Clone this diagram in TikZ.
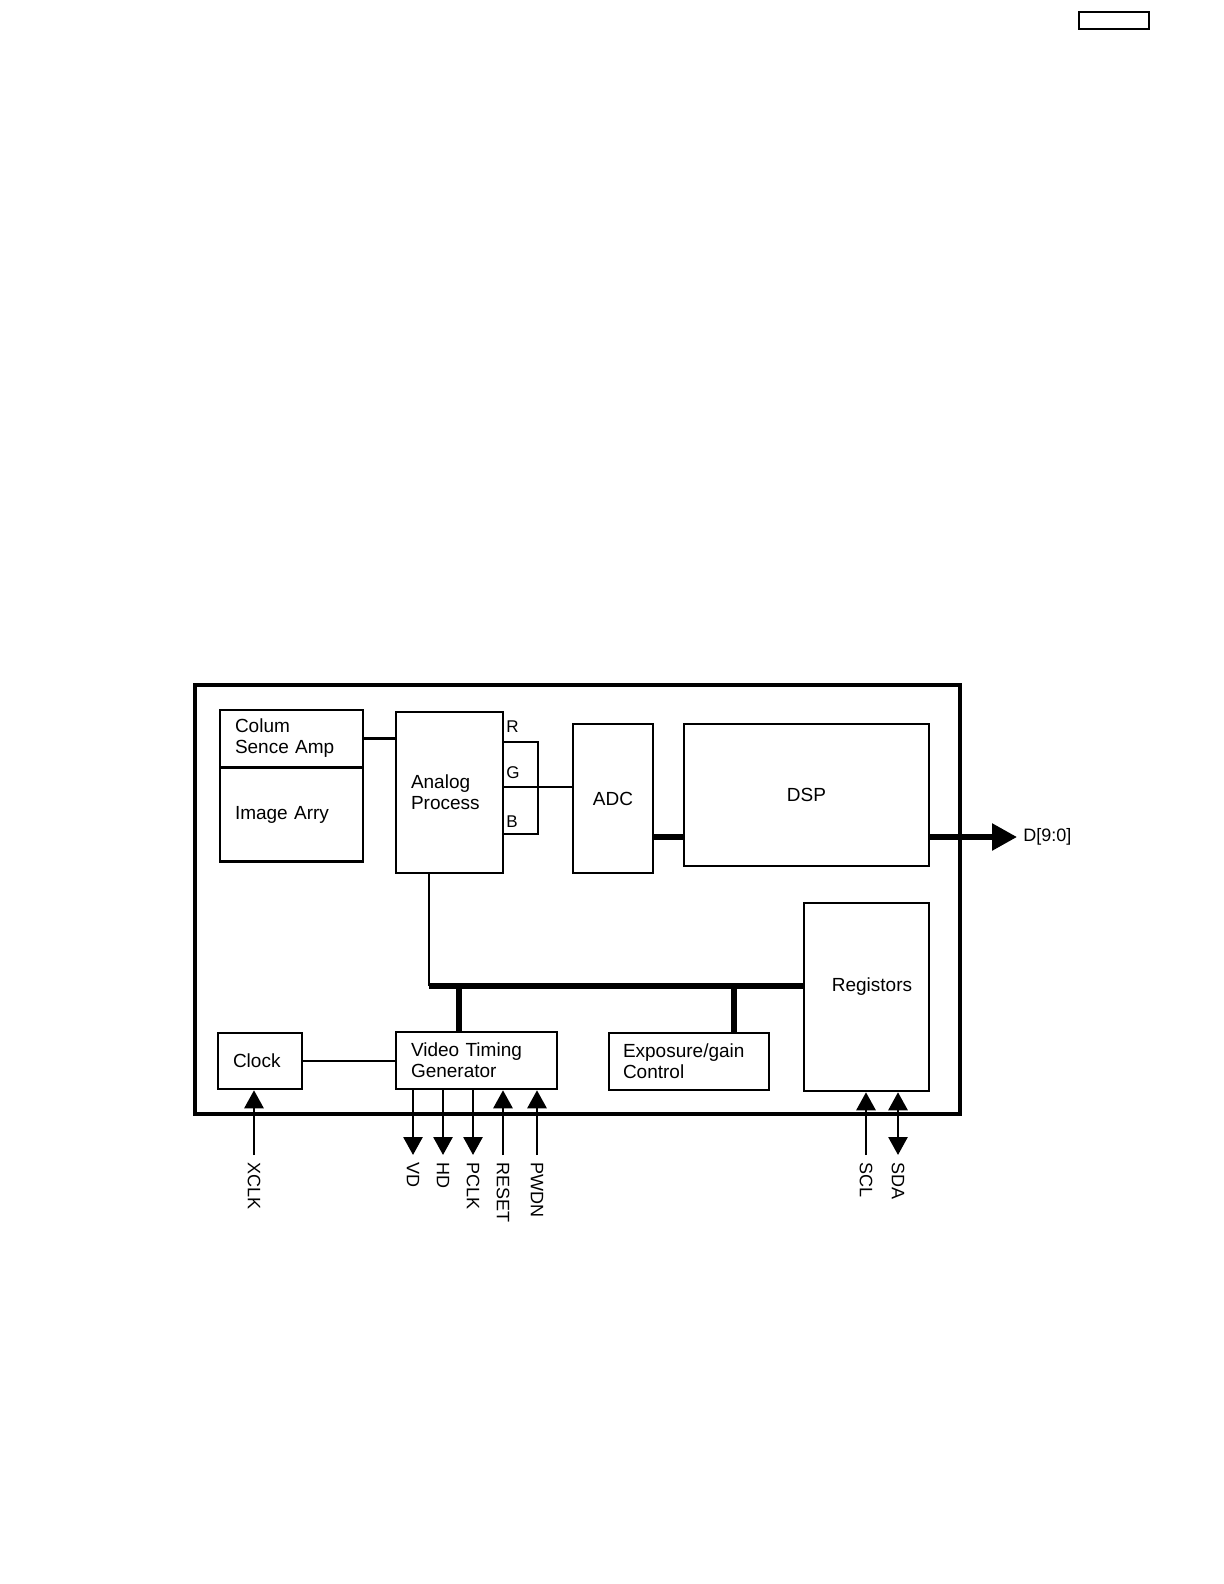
\documentclass[tikz,border=0pt]{standalone}
\usepackage{fontspec}
\setmainfont{Liberation Sans}
\usetikzlibrary{arrows.meta,positioning,calc}

\begin{document}
\begin{tikzpicture}[x=0.5pt, y=-0.5pt,
  every node/.style={font=\fontsize{9.5}{10.5}\selectfont},
  blk/.style={draw, line width=1.25pt, inner xsep=7.5pt, inner ysep=0pt, align=left},
  wire/.style={line width=1.15pt},
  bus/.style={line width=2.8pt},
  pinwire/.style={line width=1.4pt},
  pinarrow/.style={-{Triangle[length=9pt,width=9.5pt]}},
  pinboth/.style={{Triangle[length=9pt,width=9.5pt]}-{Triangle[length=9pt,width=9.5pt]}},
  pinlbl/.style={rotate=-90, anchor=west, inner sep=0pt, font=\fontsize{9}{10}\selectfont},
  rgb/.style={anchor=west, inner sep=0pt, font=\fontsize{8.5}{9}\selectfont}]
  \useasboundingbox (0,0) rectangle (1224,1584);
  % page tag and chip outline
  \draw[line width=0.8pt] (1079,12) rectangle (1149,29);
  \draw[line width=1.7pt] (195,685) rectangle (960,1114);
  % blocks
  \node[blk, minimum width=71.5pt, minimum height=28.5pt, text width=56.5pt] (col) at (291.5,738.5) {Colum\\Sence Amp};
  \node[blk, minimum width=71.5pt, minimum height=47pt, text width=56.5pt, below=-0.9pt of col] (img) {Image Arry};
  \node[blk, minimum width=53.5pt, minimum height=80.5pt, text width=38.5pt] (ana) at (449.5,792.5) {Analog\\Process};
  \node[blk, minimum width=40pt, minimum height=74.5pt, inner xsep=0pt, align=center] (adc) at (613,798.5) {ADC};
  \node[blk, minimum width=122.5pt, minimum height=71pt, align=center] (dsp) at (806.5,795) {DSP};
  \node[blk, minimum width=62.5pt, minimum height=94pt,
        label={[xshift=2.75pt, yshift=5pt]center:Registors}] (reg) at (866.5,997) {};
  \node[blk, minimum width=42pt, minimum height=28pt, text width=27pt] (clk) at (260,1061) {Clock};
  \node[blk, minimum width=80.5pt, minimum height=28.5pt, text width=65.5pt] (vtg) at (476.5,1060.5) {Video Timing\\Generator};
  \node[blk, minimum width=80pt, minimum height=28.5pt, inner xsep=7pt, text width=66pt] (exp) at (689,1061.5) {Exposure/gain\\Control};
  % analog path
  \draw[wire] (col.east) -- (col.east -| ana.west);
  \coordinate (rtop) at (538,742);
  \coordinate (rbot) at (538,834);
  \coordinate (gmid) at (538,787);
  \draw[wire] (rtop -| ana.east) -- (rtop) -- (rbot) -- (rbot -| ana.east);
  \draw[wire] (ana.east |- gmid) -- (adc.west |- gmid);
  \node[rgb] (lr) at (506,727) {R};
  \node[rgb] (lg) at (506,773) {G};
  \node[rgb] (lb) at (506,822) {B};
  % data out
  \draw[bus] ($(adc.east)+(0,38.5)$) -- ($(dsp.west)+(0,42)$);
  \coordinate (dout) at (1017,837);
  \draw[bus, -{Triangle[length=12.5pt,width=13pt]}] ($(dsp.east)+(0,42)$) -- (dout);
  \node[anchor=west, inner sep=0pt, font=\fontsize{9}{10}\selectfont] (dlbl) at (1023,837) {D[9:0]};
  % control bus
  \coordinate (busL) at (429,986);
  \draw[wire] (ana.south -| busL) -- (busL);
  \draw[bus] (busL) -- (busL -| reg.west);
  \coordinate (tapV) at (459,986);
  \coordinate (tapE) at (734,986);
  \draw[bus] (tapV) -- (tapV |- vtg.north);
  \draw[bus] (tapE) -- (tapE |- exp.north);
  \draw[wire] (clk.east) -- (clk.east -| vtg.west);
  % pins
  \coordinate (xclk) at (254,1155);
  \coordinate (vd) at (413,1155);
  \coordinate (hd) at (443,1155);
  \coordinate (pclk) at (473,1155);
  \coordinate (rst) at (503,1155);
  \coordinate (pwdn) at (537,1155);
  \coordinate (scl) at (866,1155);
  \coordinate (sda) at (898,1155);
  \draw[pinwire, pinarrow] (xclk) -- (xclk |- clk.south);
  \draw[pinwire, pinarrow] (vd |- vtg.south) -- (vd);
  \draw[pinwire, pinarrow] (hd |- vtg.south) -- (hd);
  \draw[pinwire, pinarrow] (pclk |- vtg.south) -- (pclk);
  \draw[pinwire, pinarrow] (rst) -- (rst |- vtg.south);
  \draw[pinwire, pinarrow] (pwdn) -- (pwdn |- vtg.south);
  \draw[pinwire, pinarrow] (scl) -- (scl |- reg.south);
  \draw[pinwire, pinboth] (sda) -- (sda |- reg.south);
  \node[pinlbl] (xclkl) at ($(xclk)+(0,7)$) {XCLK};
  \node[pinlbl] (vdl) at ($(vd)+(0,7)$) {VD};
  \node[pinlbl] (hdl) at ($(hd)+(0,7)$) {HD};
  \node[pinlbl] (pclkl) at ($(pclk)+(0,7)$) {PCLK};
  \node[pinlbl] (rstl) at ($(rst)+(0,7)$) {RESET};
  \node[pinlbl] (pwdnl) at ($(pwdn)+(0,7)$) {PWDN};
  \node[pinlbl] (scll) at ($(scl)+(0,7)$) {SCL};
  \node[pinlbl] (sdal) at ($(sda)+(0,7)$) {SDA};
\end{tikzpicture}
\end{document}
